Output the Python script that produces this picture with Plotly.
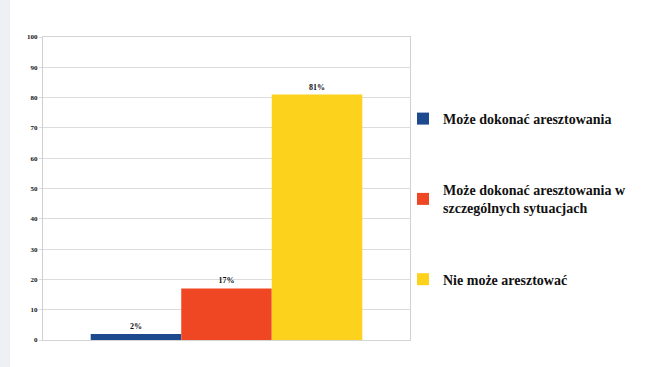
import plotly.graph_objects as go

# Survey answers and their shares (percent)
answers = [
    "Może dokonać aresztowania",
    "Może dokonać aresztowania w<br>szczególnych sytuacjach",
    "Nie może aresztować",
]
shares = [2, 17, 81]
colors = ["#1d4a8e", "#ef4723", "#fcd21d"]
y_ticks = list(range(0, 101, 10))

W, H = 656, 367
ml, mr, mt, mb = 43, 246, 37, 27
pw, ph = W - ml - mr, H - mt - mb

serif = "Liberation Serif"

fig = go.Figure()
for i, (name, val, col) in enumerate(zip(answers, shares, colors)):
    fig.add_trace(go.Bar(
        x=[""], y=[val], name=f"<b>{name}</b>",
        marker=dict(color=col, line=dict(width=0)),
        text=[f"<b>{val}%</b>"], textposition="outside",
        textfont=dict(family=serif, size=8, color="#111"),
        cliponaxis=False, legendgroup=f"g{i}",
    ))

fig.update_layout(
    width=W, height=H,
    margin=dict(l=ml, r=mr, t=mt, b=mb),
    paper_bgcolor="white", plot_bgcolor="white",
    barmode="group", bargap=0.26, bargroupgap=0,
    showlegend=True,
    legend=dict(
        x=(403 - ml) / pw, xanchor="left",
        y=(340 - 103) / ph, yanchor="top",
        font=dict(family=serif, size=14, color="#111"),
        tracegroupgap=50, itemwidth=30,
        bgcolor="rgba(0,0,0,0)",
    ),
    font=dict(family=serif, color="#111"),
    shapes=[dict(
        type="rect", xref="paper", yref="paper", layer="below",
        x0=-ml / pw, x1=-(ml - 10) / pw, y0=-mb / ph, y1=1 + mt / ph,
        fillcolor="#eef0f4", line=dict(width=0),
    )],
)
fig.update_xaxes(
    showticklabels=False, showgrid=False,
    showline=True, linecolor="#d4d4d4", linewidth=1, mirror=True,
)
fig.update_yaxes(
    range=[0, 100], tickvals=y_ticks,
    ticktext=[f"<b>{t}</b>" for t in y_ticks],
    tickfont=dict(family=serif, size=7, color="#111"),
    showgrid=True, gridcolor="#dcdcdc", gridwidth=1,
    showline=True, linecolor="#cfcfcf", linewidth=1, mirror=True,
    ticks="outside", ticklen=3, tickcolor="#dcdcdc",
    zeroline=False,
)

fig.write_html("out.html")
